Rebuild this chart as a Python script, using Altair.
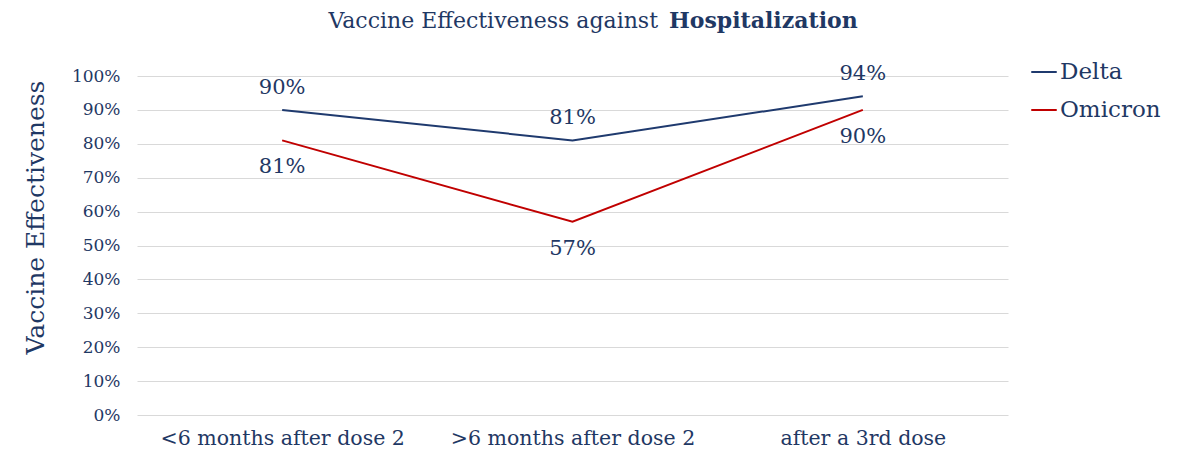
import altair as alt
import pandas as pd

categories = ["<6 months after dose 2", ">6 months after dose 2", "after a 3rd dose"]
delta = [0.90, 0.81, 0.94]
omicron = [0.81, 0.57, 0.90]
series = ["Delta", "Omicron"]
colors = ["#1F3A6E", "#C00000"]
y_ticks = [0, 0.1, 0.2, 0.3, 0.4, 0.5, 0.6, 0.7, 0.8, 0.9, 1.0]

FONT = "DejaVu Serif"
NAVY = "#1F3864"

rows = []
for c, d, o in zip(categories, delta, omicron):
    rows.append({"cat": c, "series": "Delta", "v": d})
    rows.append({"cat": c, "series": "Omicron", "v": o})
df = pd.DataFrame(rows)

W, H = 871, 339

x = alt.X("cat:N", sort=categories, title=None,
          scale=alt.Scale(type="point", padding=0.5),
          axis=alt.Axis(labelAngle=0, labelFontSize=20.5, labelFont=FONT, labelColor=NAVY,
                        labelPadding=13, labelLimit=0, domain=False, ticks=False, grid=False))
y = alt.Y("v:Q", title="Vaccine Effectiveness",
          scale=alt.Scale(domain=[0, 1], nice=False),
          axis=alt.Axis(format=".0%", values=y_ticks, labelFontSize=17, labelFont=FONT,
                        labelColor=NAVY, labelPadding=17, domain=False, ticks=False,
                        grid=True, gridColor="#D9D9D9", gridWidth=1, labelOverlap=False,
                        titleFont=FONT, titleFontSize=25, titleFontWeight="normal",
                        titleColor=NAVY, titleX=-102, titleY=141, titleAngle=270,
                        titleAlign="center", titleBaseline="middle"))
color = alt.Color("series:N", scale=alt.Scale(domain=series, range=colors),
                  legend=alt.Legend(title=None, orient="none", legendX=893, legendY=-18,
                                    symbolType="stroke", symbolSize=650, symbolStrokeWidth=2,
                                    labelFont=FONT, labelFontSize=23, labelColor=NAVY,
                                    rowPadding=12, labelOffset=2))

base = alt.Chart(df)
lines = base.mark_line(strokeWidth=2).encode(x=x, y=y, color=color)
lab_d = base.transform_filter(alt.datum.series == "Delta").mark_text(
    dy=-22, font=FONT, fontSize=21, color=NAVY).encode(
    x=x, y=y, text=alt.Text("v:Q", format=".0%"))
lab_o = base.transform_filter(alt.datum.series == "Omicron").mark_text(
    dy=27, font=FONT, fontSize=21, color=NAVY).encode(
    x=x, y=y, text=alt.Text("v:Q", format=".0%"))

title_df = pd.DataFrame({"a": [1]})
t1 = alt.Chart(title_df).mark_text(align="right", baseline="middle", font=FONT,
                                   fontSize=22, color=NAVY).encode(
    x=alt.value(521), y=alt.value(-55), text=alt.value("Vaccine Effectiveness against"))
t2 = alt.Chart(title_df).mark_text(align="left", baseline="middle", font=FONT,
                                   fontSize=22, fontWeight="bold", color=NAVY).encode(
    x=alt.value(532), y=alt.value(-55), text=alt.value("Hospitalization"))

chart = alt.layer(lines, lab_d, lab_o, t1, t2).properties(
    width=W, height=H,
    autosize=alt.AutoSizeParams(type="none"),
    padding={"left": 129, "top": 68, "right": 171, "bottom": 35},
).configure(background="white").configure_view(stroke=None)

chart.save("out.html", embed_options={"renderer": "svg", "actions": False})
